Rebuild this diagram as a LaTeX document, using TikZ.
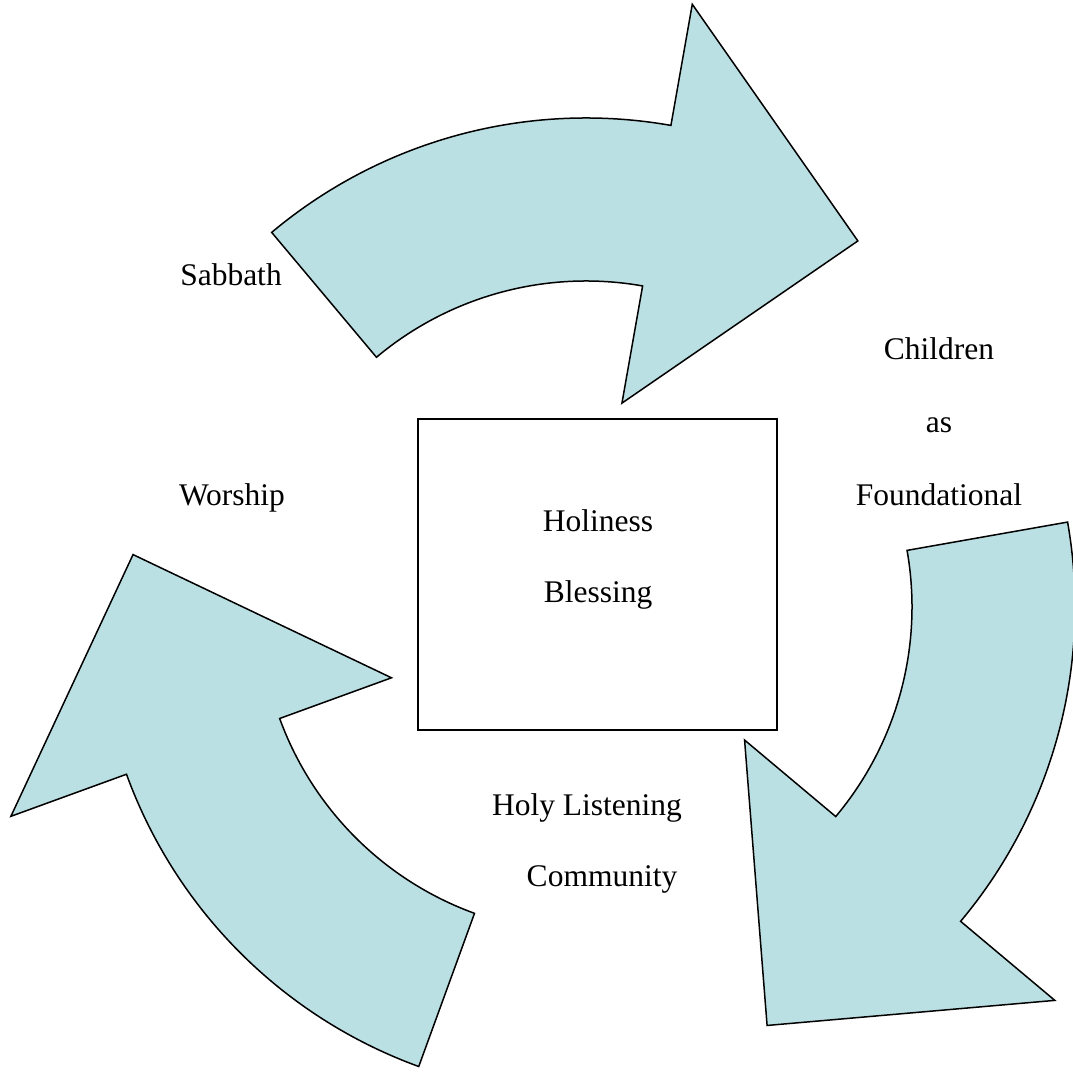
\documentclass[tikz,border=0pt]{standalone}
\usepackage{fontspec}
\setmainfont{Liberation Serif}
\usetikzlibrary{calc}
\definecolor{arrowblue}{RGB}{187,224,227}
\begin{document}
\begin{tikzpicture}[x=1pt,y=1pt,
  cyclearrow/.style={fill=arrowblue, draw=black, line width=1.5pt, line join=miter},
  centrebox/.style={draw=black, line width=2pt, fill=white, inner sep=0pt},
  wordlabel/.style={font=\fontsize{31.5}{38}\selectfont, anchor=base, inner sep=0pt}]
\useasboundingbox (0,0) rectangle (1073,1073);
\coordinate (C) at (586,466);
% three curved block arrows, each turned by 120 degrees about the centre
\foreach \a in {0,-120,-240}{
  \draw[cyclearrow]
    ($(C)+({130+\a}:489)$) arc[start angle=130+\a, end angle=80+\a, radius=489]
    -- ($(C)+({80+\a}:612)$)
    -- ($(C)+({53.4+\a}:456)$)
    -- ($(C)+({80+\a}:207)$)
    -- ($(C)+({80+\a}:326)$)
    arc[start angle=80+\a, end angle=130+\a, radius=326]
    -- cycle;
}
% central box
\node[centrebox, minimum width=359pt, minimum height=311pt] (box) at (597.5,498.5) {};
\node[wordlabel] (holiness) at (598,541) {Holiness};
\node[wordlabel] (blessing) at (598,470) {Blessing};
% labels around the cycle
\node[wordlabel] (sabbath) at (231,787) {Sabbath};
\node[wordlabel] (children) at (939,713) {Children};
\node[wordlabel] (as) at (939,640) {as};
\node[wordlabel] (foundational) at (939,567) {Foundational};
\node[wordlabel] (worship) at (232,567) {Worship};
\node[wordlabel] (listening) at (587,257) {Holy Listening};
\node[wordlabel] (community) at (602,186) {Community};
\end{tikzpicture}
\end{document}
